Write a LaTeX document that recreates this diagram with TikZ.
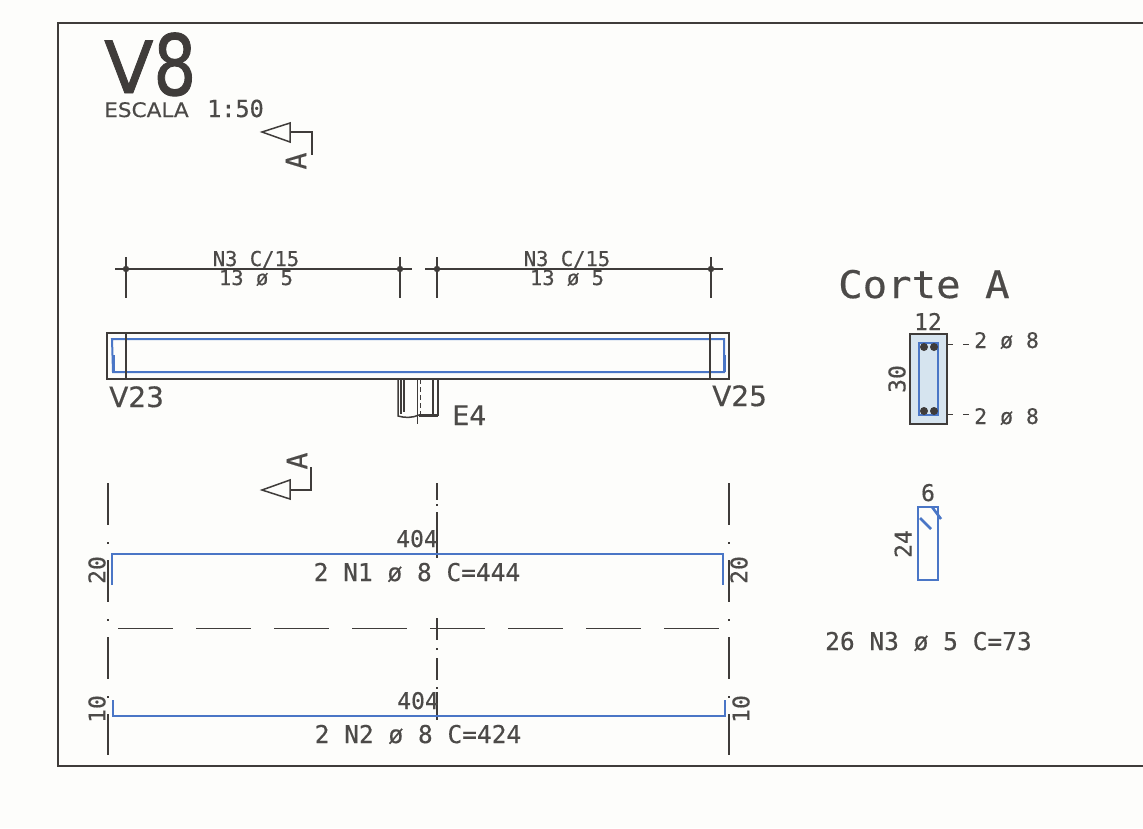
\documentclass[tikz,border=0pt]{standalone}
\usepackage{fontspec}
\setmainfont{DejaVu Sans}[FakeBold=0.4]
\newfontfamily\titlefam{DejaVu Sans}[FakeBold=1.2]
\newfontfamily\monofam{DejaVu Sans Mono}[FakeBold=0.4]
\usetikzlibrary{arrows.meta, calc}
\definecolor{inkgray}{HTML}{3F3C3A}
\definecolor{textgray}{HTML}{4C4A48}
\definecolor{rebar}{HTML}{4A76C6}
\definecolor{concrete}{HTML}{D6E4EF}
\definecolor{paper}{HTML}{FDFDFB}

\begin{document}
\begin{tikzpicture}[
        x=1pt, y=-1pt,
        label/.style={
            anchor=base west,
            inner sep=0pt,
            text=textgray,
        },
        dimtext/.style={
            label,
            anchor=base,
            font=\monofam\fontsize{23}{23}\selectfont,
        },
        smalltext/.style={
            label,
            anchor=base,
            font=\monofam\fontsize{20.5}{20.5}\selectfont,
        },
        longtext/.style={
            label,
            anchor=base,
            font=\monofam\fontsize{24.5}{24.5}\selectfont,
        },
        marktext/.style={
            label,
            rotate=90,
            anchor=center,
            font=\monofam\fontsize{28}{28}\selectfont,
        },
        sans/.style={
            label,
            font=\fontsize{28}{28}\selectfont,
        },
        frameline/.style={
            draw=inkgray,
            line width=1.4pt,
        },
        thin/.style={
            draw=inkgray,
            line width=1.5pt,
        },
        bar/.style={
            draw=rebar,
            line width=2pt,
        },
        axisline/.style={
            draw=inkgray,
            line width=1.3pt,
            dash pattern=on 42pt off 17pt on 2pt off 16pt,
        },
    ]
    \useasboundingbox (0, 0) rectangle (1143, 828);
    \fill[paper] (0, 0) rectangle (1143, 828);

    % sheet frame
    \draw[frameline] (1143, 23) -- (58, 23) -- (58, 766) -- (1143, 766);

    % title
    \node[label, font=\titlefam\fontsize{72}{72}\selectfont, text=inkgray] (title) at (104, 93)
        {V\raisebox{-2pt}{\scalebox{0.8}[1]{\fontsize{84}{84}\selectfont 8}}};
    \node[label, font=\fontsize{20}{20}\selectfont, xscale=1.08] (scale) at (104, 117) {ESCALA};
    \node[label, font=\monofam\fontsize{23.5}{23.5}\selectfont] (ratio) at (207, 117) {1:50};

    % section marks
    \draw[thin] (262, 132) -- (290, 123) -- (290, 142) -- cycle;
    \draw[thin] (290, 132) -- (312, 132) -- (312, 155);
    \node[marktext] (marktop) at (296, 161) {A};
    \draw[thin] (262, 490) -- (290, 480) -- (290, 499) -- cycle;
    \draw[thin] (290, 490) -- (311, 490) -- (311, 467);
    \node[marktext] (markbot) at (297, 461) {A};

    % stirrup spacing lines
    \draw[thin] (115, 269) -- (412, 269);
    \draw[thin] (126, 257) -- (126, 298);
    \draw[thin] (400, 257) -- (400, 298);
    \fill[inkgray] (126, 269) circle (3.2);
    \fill[inkgray] (400, 269) circle (3.2);
    \draw[thin] (425, 269) -- (723, 269);
    \draw[thin] (437, 257) -- (437, 298);
    \draw[thin] (711, 257) -- (711, 298);
    \fill[inkgray] (437, 269) circle (3.2);
    \fill[inkgray] (711, 269) circle (3.2);
    \node[smalltext] (n3a) at (256, 266) {N3 C/15};
    \node[smalltext] (n3b) at (256, 285) {13 ø 5};
    \node[smalltext] (n3c) at (567, 266) {N3 C/15};
    \node[smalltext] (n3d) at (567, 285) {13 ø 5};

    % beam
    \draw[bar] (113, 372) -- (112, 339) -- (724, 339) -- (724, 372) -- cycle;
    \draw[rebar, line width=3pt] (113, 355) -- (113, 372);
    \draw[rebar, line width=3pt] (724, 355) -- (724, 372);
    \draw[thin] (107, 333) rectangle (729, 379);
    \draw[thin] (126, 333) -- (126, 379);
    \draw[thin] (710, 333) -- (710, 379);
    \node[sans] (v23) at (109, 407) {V23};
    \node[sans] (v25) at (712, 406) {V25};

    % column stub
    \draw[thin] (398, 379) -- (398, 416) .. controls (405, 418) and (412, 418) .. (419, 415);
    \draw[inkgray, line width=3pt] (419, 415) -- (438, 415);
    \draw[thin, line width=2pt] (438, 379) -- (438, 416);
    \draw[thin] (401, 379) -- (401, 414);
    \draw[thin] (404, 379) -- (404, 412);
    \draw[thin] (433, 379) -- (433, 414);
    \draw[thin, line width=1pt] (417, 379) -- (417, 424);
    \draw[thin, line width=1pt, dash pattern=on 5pt off 3pt] (420, 379) -- (420, 414);
    \node[label, font=\fontsize{27}{27}\selectfont] (e4) at (452, 425) {E4};

    % axes and break line
    \draw[axisline] (108, 483) -- (108, 755);
    \draw[axisline] (729, 483) -- (729, 755);
    \draw[thin, line width=1.3pt] (437, 483) -- (437, 500) (437, 504) -- (437, 506)
        (437, 512) -- (437, 558) (437, 618) -- (437, 640) (437, 648) -- (437, 650)
        (437, 658) -- (437, 680) (437, 687) -- (437, 689) (437, 692) -- (437, 720);
    \draw[thin, line width=1pt, dash pattern=on 55pt off 23pt] (118, 628) -- (719, 628);

    % bars
    \draw[bar, line width=2.6pt] (112, 585) -- (112, 554) -- (723, 554) -- (723, 585);
    \draw[bar, line width=2.6pt] (113, 700) -- (113, 716) -- (725, 716) -- (725, 700);
    \node[dimtext] (len1) at (417, 547) {404};
    \node[dimtext] (len2) at (418, 709) {404};
    \node[longtext] (n1) at (417, 581) {2 N1 ø 8 C=444};
    \node[longtext] (n2) at (418, 743) {2 N2 ø 8 C=424};
    \node[dimtext, rotate=90, anchor=center] (h1) at (97, 570) {20};
    \node[dimtext, rotate=90, anchor=center] (h2) at (739, 570) {20};
    \node[dimtext, rotate=90, anchor=center] (h3) at (97, 709) {10};
    \node[dimtext, rotate=90, anchor=center] (h4) at (741, 709) {10};

    % section
    \node[label, font=\monofam\fontsize{38}{38}\selectfont, xscale=1.07] (corte) at (838, 298) {Corte A};
    \draw[thin, fill=concrete] (910, 334) rectangle (947, 424);
    \draw[bar] (919, 343) rectangle (938, 415);
    \fill[inkgray] (924, 347) circle (4);
    \fill[inkgray] (934, 347) circle (4);
    \fill[inkgray] (924, 411) circle (4);
    \fill[inkgray] (934, 411) circle (4);
    \node[dimtext] (w12) at (928, 330) {12};
    \node[dimtext, rotate=90, anchor=center] (h30) at (897, 379) {30};
    \draw[thin, line width=1pt] (948, 344) -- (953, 344) (963, 344) -- (969, 344);
    \draw[thin, line width=1pt] (948, 414) -- (953, 414) (963, 414) -- (969, 414);
    \node[dimtext, anchor=base west, font=\monofam\fontsize{21.5}{21.5}\selectfont] (top8) at (974, 348) {2 ø 8};
    \node[dimtext, anchor=base west, font=\monofam\fontsize{21.5}{21.5}\selectfont] (bot8) at (974, 424) {2 ø 8};

    % stirrup
    \draw[bar, line width=2.6pt] (918, 507) rectangle (938, 580);
    \draw[bar, line width=2.6pt] (920, 518) -- (931, 529);
    \draw[bar, line width=2.6pt] (932, 507) -- (941, 519);
    \node[dimtext] (w6) at (928, 501) {6};
    \node[dimtext, rotate=90, anchor=center] (h24) at (903, 544) {24};
    \node[longtext, anchor=base west] (n3) at (825, 650) {26 N3 ø 5 C=73};
\end{tikzpicture}
\end{document}
